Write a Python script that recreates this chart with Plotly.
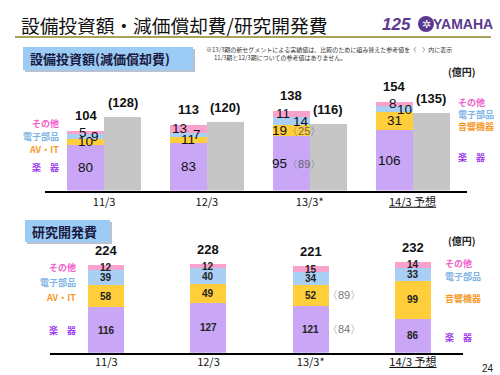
import plotly.graph_objects as go

# ---------------- data ----------------
categories = ["11/3", "12/3", "13/3*", "<u>14/3 予想</u>"]

capex_instruments = [80, 83, 95, 106]
capex_av = [10, 11, 19, 31]
capex_electronic = [9, 7, 14, 10]
capex_other = [5, 13, 11, 8]
capex_total = [104, 113, 138, 154]
depreciation = [128, 120, 116, 135]
capex_ref_instruments = [None, None, 89, None]
capex_ref_av = [None, None, 25, None]

rd_instruments = [116, 127, 121, 86]
rd_av = [58, 49, 52, 99]
rd_electronic = [39, 40, 34, 33]
rd_other = [12, 12, 15, 14]
rd_total = [224, 228, 221, 232]
rd_ref_av = [None, None, 89, None]
rd_ref_instruments = [None, None, 84, None]

seg_names_left = ["その他", "電子部品", "AV・IT", "楽　器"]
seg_names_right = ["その他", "電子部品", "音響機器", "楽　器"]

# ---------------- styles ----------------
C_PURPLE = "#C9A6F6"
C_YELLOW = "#FFCE3A"
C_BLUE = "#A9CFF4"
C_PINK = "#F9A2CD"
C_GRAY = "#C6C6C6"
T_PINK = "#F060CC"
T_BLUE = "#7FB4E6"
T_ORANGE = "#F79A2A"
T_PURPLE = "#A040EE"
NUM_FONT = "Liberation Sans, Arial, sans-serif"
JP_FONT = "Noto Sans CJK JP, sans-serif"

W, H = 500, 375


def px(x):
    return x / W


def py(y):
    return 1 - y / H


fig = go.Figure()

idx = list(range(len(categories)))
top_bw = 0.36
top_off = 0.18
xs_purple = [i - top_off for i in idx]
xs_gray = [i + top_off for i in idx]

# ---- top chart bars ----
for vals, col in [(capex_instruments, C_PURPLE), (capex_av, C_YELLOW),
                  (capex_electronic, C_BLUE), (capex_other, C_PINK)]:
    fig.add_trace(go.Bar(x=xs_purple, y=vals, width=top_bw, marker_color=col,
                         marker_line_width=0, xaxis="x", yaxis="y",
                         showlegend=False, hoverinfo="skip"))
fig.add_trace(go.Bar(x=xs_gray, y=depreciation, width=top_bw, marker_color=C_GRAY,
                     marker_line_width=0, xaxis="x", yaxis="y",
                     showlegend=False, hoverinfo="skip"))

# ---- bottom chart bars ----
for vals, col in [(rd_instruments, C_PURPLE), (rd_av, C_YELLOW),
                  (rd_electronic, C_BLUE), (rd_other, C_PINK)]:
    fig.add_trace(go.Bar(x=idx, y=vals, width=0.352, marker_color=col,
                         marker_line_width=0, xaxis="x2", yaxis="y2",
                         showlegend=False, hoverinfo="skip"))

ann = []

# ---- top chart segment labels ----
xshift_top = [[0, 0, 9, -3], [0, 0, 9, -9], [5, 5, 10, -8], [-5, 0, 10, -1]]
for i in idx:
    segs = [capex_instruments[i], capex_av[i], capex_electronic[i], capex_other[i]]
    refs = [capex_ref_instruments[i], capex_ref_av[i], None, None]
    base = 0
    for k, v in enumerate(segs):
        mid = base + v / 2
        base += v
        txt = str(v)
        if refs[k] is not None:
            txt += "<span style='font-size:11px;color:#666666'>〈%d〉</span>" % refs[k]
        ann.append(dict(x=xs_purple[i], y=mid, xref="x", yref="y", text=txt,
                        showarrow=False, xshift=xshift_top[i][k],
                        xanchor="center", yanchor="middle",
                        font=dict(family=NUM_FONT, size=13.5, color="#111111")))
    ann.append(dict(x=xs_purple[i], y=base, xref="x", yref="y", text="<b>%d</b>" % capex_total[i],
                    showarrow=False, xanchor="center", yanchor="bottom", yshift=6,
                    font=dict(family=NUM_FONT, size=13, color="#111111")))
    ann.append(dict(x=xs_gray[i], y=depreciation[i], xref="x", yref="y",
                    text="<b>(%d)</b>" % depreciation[i],
                    showarrow=False, xanchor="center", yanchor="bottom", yshift=5,
                    font=dict(family=NUM_FONT, size=13, color="#111111")))

# ---- bottom chart segment labels ----
for i in idx:
    segs = [rd_instruments[i], rd_av[i], rd_electronic[i], rd_other[i]]
    refs = [rd_ref_instruments[i], rd_ref_av[i], None, None]
    base = 0
    for k, v in enumerate(segs):
        mid = base + v / 2
        base += v
        ann.append(dict(x=i, y=mid, xref="x2", yref="y2", text="<b>%d</b>" % v,
                        showarrow=False, xanchor="center", yanchor="middle",
                        font=dict(family=NUM_FONT, size=10, color="#222222")))
        if refs[k] is not None:
            ann.append(dict(x=i, y=mid, xref="x2", yref="y2", text="〈%d〉" % refs[k],
                            showarrow=False, xshift=33, xanchor="center", yanchor="middle",
                            font=dict(family=NUM_FONT, size=11, color="#777777")))
    ann.append(dict(x=i, y=base, xref="x2", yref="y2", text="<b>%d</b>" % rd_total[i],
                    showarrow=False, xanchor="center", yanchor="bottom", yshift=5,
                    font=dict(family=NUM_FONT, size=13, color="#111111")))

# ---- segment name labels ----
seg_colors = [T_PINK, T_BLUE, T_ORANGE, T_PURPLE]


def add_names(names, ys, xpx, anchor):
    for n, yy, c in zip(names, ys, seg_colors):
        ann.append(dict(x=px(xpx), y=py(yy), xref="paper", yref="paper", text="<b>%s</b>" % n,
                        showarrow=False, xanchor=anchor, yanchor="middle",
                        font=dict(family=JP_FONT, size=9, color=c)))


add_names(seg_names_left, [123, 137, 149, 168], 61, "right")
add_names(seg_names_right, [102, 114, 126, 157], 456, "left")
add_names(seg_names_left, [267, 282, 297, 330], 78, "right")
add_names(seg_names_right, [263, 276, 298, 337], 443, "left")


def paper_text(x, y, text, font, xanchor="center"):
    ann.append(dict(x=px(x), y=py(y), xref="paper", yref="paper", text=text,
                    showarrow=False, xanchor=xanchor, yanchor="middle", font=font))


# ---- titles / texts ----
paper_text(19, 24, "設備投資額・減価償却費/研究開発費",
           dict(family=JP_FONT, size=18.7, color="#111111"), "left")
paper_text(28, 58.5, "<b>設備投資額(減価償却費)</b>",
           dict(family=JP_FONT, size=13, color="#1A1A40"), "left")
paper_text(30, 231, "<b>研究開発費</b>",
           dict(family=JP_FONT, size=13, color="#1A1A40"), "left")
paper_text(204, 49, "※13/3期の新セグメントによる実績値は、比較のために組み替えた参考値を〈　〉内に表示",
           dict(family=JP_FONT, size=6, color="#333333"), "left")
paper_text(212, 57, "11/3期と12/3期についての参考値はありません。",
           dict(family=JP_FONT, size=6, color="#333333"), "left")
for yy in (71, 240):
    paper_text(462, yy, "<b>(億円)</b>", dict(family=JP_FONT, size=10, color="#222222"))
paper_text(488, 368, "24", dict(family=NUM_FONT, size=10, color="#222222"))
# logo
paper_text(396, 24, "<b><i>125</i></b>", dict(family=NUM_FONT, size=17, color="#5A3A8E"))
paper_text(426, 24, "✲", dict(family="DejaVu Sans", size=11, color="#FFFFFF"))
paper_text(463, 24, "<b>YAMAHA</b>", dict(family=NUM_FONT, size=14, color="#5A3A8E"))

shapes = [
    dict(type="line", xref="paper", yref="paper", x0=px(15), x1=px(491), y0=py(37), y1=py(37),
         line=dict(color="#A9A35A", width=2)),
    # title boxes with shadow
    dict(type="rect", xref="paper", yref="paper", x0=px(25), x1=px(195), y0=py(72), y1=py(49),
         fillcolor="#B8C2D0", line_width=0, layer="below"),
    dict(type="rect", xref="paper", yref="paper", x0=px(23), x1=px(193), y0=py(70), y1=py(47),
         fillcolor="#9CCBF6", line_width=0, layer="below"),
    dict(type="rect", xref="paper", yref="paper", x0=px(27), x1=px(112), y0=py(244), y1=py(222),
         fillcolor="#B8C2D0", line_width=0, layer="below"),
    dict(type="rect", xref="paper", yref="paper", x0=px(25), x1=px(110), y0=py(242), y1=py(220),
         fillcolor="#9CCBF6", line_width=0, layer="below"),
    # logo emblem
    dict(type="circle", xref="paper", yref="paper", x0=px(418), x1=px(434), y0=py(32), y1=py(16),
         fillcolor="#5A3A8E", line_width=0),
]

fig.update_layout(
    width=W, height=H, margin=dict(l=0, r=0, t=0, b=0),
    paper_bgcolor="white", plot_bgcolor="rgba(0,0,0,0)",
    barmode="stack", bargap=0,
    xaxis=dict(domain=[px(45), px(467)], range=[-0.575, 3.53], anchor="y",
               tickvals=idx, ticktext=categories, showgrid=False, zeroline=False,
               showline=True, linecolor="black", linewidth=2, ticks="",
               ticklabelstandoff=0,
               tickfont=dict(family=JP_FONT, size=11, color="#111111"), fixedrange=True),
    yaxis=dict(domain=[py(190.5), py(80)], range=[0, 192.8], visible=False, fixedrange=True),
    xaxis2=dict(domain=[px(50), px(463)], range=[-0.55, 3.49], anchor="y2",
                tickvals=idx, ticktext=categories, showgrid=False, zeroline=False,
                showline=True, linecolor="black", linewidth=2, ticks="",
                ticklabelstandoff=-2,
                tickfont=dict(family=JP_FONT, size=11, color="#111111"), fixedrange=True),
    yaxis2=dict(domain=[py(352.7), py(250)], range=[0, 263.3], visible=False, fixedrange=True),
    annotations=ann, shapes=shapes,
)

fig.write_html("out.html", config={"displayModeBar": False},
               post_script="document.body.style.margin='0';document.body.style.overflow='hidden';")
